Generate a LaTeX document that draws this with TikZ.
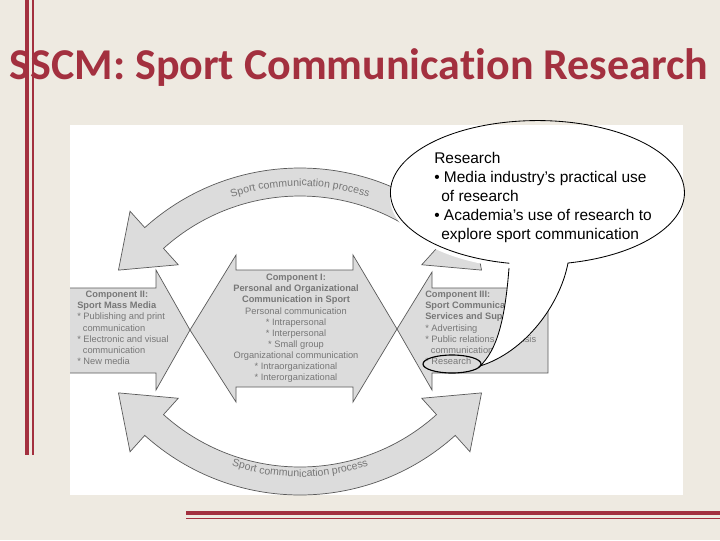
\documentclass[tikz,border=0pt]{standalone}
\usepackage{fontspec}
\setmainfont{Liberation Sans}
\newfontfamily\titlefont[Ligatures=NoCommon]{Carlito}
\usetikzlibrary{calc,decorations.text}
\definecolor{bg}{HTML}{EEEAE1}
\definecolor{deepred}{HTML}{A3303F}
\definecolor{shapefill}{HTML}{DCDCDC}
\definecolor{shapeline}{HTML}{5A5A5A}
\definecolor{txtgray}{HTML}{777777}
\tikzset{
  shp/.style={fill=shapefill},
  shpline/.style={draw=shapeline,line width=0.5pt,line join=miter},
  comp/.style={text=txtgray,font=\fontsize{6.6}{7.9}\selectfont,inner sep=0pt},
  calltxt/.style={font=\fontsize{11}{13.6}\selectfont,inner sep=0pt,anchor=north west,align=left}
}
\begin{document}
\begin{tikzpicture}[x=0.025cm,y=-0.025cm]
\fill[bg] (0,0) rectangle (720,540);
\useasboundingbox (0,0) rectangle (720,540);
% red rules
\draw[deepred,line width=2.2pt] (27,0) -- (27,455);
\draw[deepred,line width=1.3pt] (33,0) -- (33,455);
\draw[deepred,line width=2.2pt] (186,513) -- (720,513);
\draw[deepred,line width=1.3pt] (186,518.5) -- (720,518.5);
% title
\node[text=deepred,font=\titlefont\bfseries\fontsize{31.3}{36}\selectfont,inner sep=0pt] (title) at (359,68) {SSCM: Sport Communication Research};
% panel
\fill[white] (70,125) rectangle (683,495);
% arcs
\def\toparc{([shift={(300,400)}]-48:232) arc[start angle=-48,end angle=-132,radius=232]
  -- ([shift={(300,400)}]-132:254) -- ($([shift={(300,400)}]-132:218)+(138:48)$)
  -- ([shift={(300,400)}]-132:182) -- ([shift={(300,400)}]-132:204)
  arc[start angle=-132,end angle=-48,radius=204]
  -- ([shift={(300,400)}]-48:182) -- ($([shift={(300,400)}]-48:218)+(42:48)$)
  -- ([shift={(300,400)}]-48:254) -- cycle}
\def\botarc{([shift={(300,263)}]48:232) arc[start angle=48,end angle=132,radius=232]
  -- ([shift={(300,263)}]132:254) -- ($([shift={(300,263)}]132:218)+(222:48)$)
  -- ([shift={(300,263)}]132:182) -- ([shift={(300,263)}]132:204)
  arc[start angle=132,end angle=48,radius=204]
  -- ([shift={(300,263)}]48:182) -- ($([shift={(300,263)}]48:218)+(-42:48)$)
  -- ([shift={(300,263)}]48:254) -- cycle}
\def\leftarr{(70,288) -- (156,288) -- (156,270) -- (190,330) -- (156,390) -- (156,373) -- (70,373)}
\def\rightarr{(548,288) -- (432,288) -- (432,272) -- (397,329) -- (432,390) -- (432,373) -- (548,373) -- cycle}
\def\centarr{(190,330) -- (236,255) -- (236,270) -- (353,270) -- (353,255) -- (397,329) -- (353,402) -- (353,387) -- (236,387) -- (236,402) -- cycle}
\fill[shp] \toparc;
\fill[shp] \botarc;
\fill[shp] \leftarr -- cycle;
\fill[shp] \rightarr;
\fill[shp] \centarr;
\draw[shpline] \toparc;
\draw[shpline] \botarc;
\draw[shpline] \leftarr;
\draw[shpline] \rightarr;
\draw[shpline] \centarr;
% arc labels
\path[decorate,decoration={text along path,text align=center,
  text={|\fontsize{7.5}{8}\selectfont\color{txtgray}|Sport communication process}}]
  ([shift={(300,400)}]-122:214) arc[start angle=-122,end angle=-58,radius=214];
\path[decorate,decoration={text along path,text align=center,
  text={|\fontsize{7.5}{8}\selectfont\color{txtgray}|Sport communication process}}]
  ([shift={(300,263)}]122:214) arc[start angle=122,end angle=58,radius=214];
% component texts
\node[comp,align=center,anchor=north] (c1) at (296,274) {\textbf{Component I:}\\\textbf{Personal and Organizational}\\\textbf{Communication in Sport}\\Personal communication\\* Intrapersonal\\* Interpersonal\\* Small group\\Organizational communication\\* Intraorganizational\\* Interorganizational};
\node[comp,align=left,anchor=north west] (c2) at (77,291) {\hspace*{6pt}\textbf{Component II:}\\\textbf{Sport Mass Media}\\* Publishing and print\\\hspace*{4pt}communication\\* Electronic and visual\\\hspace*{4pt}communication\\* New media};
\node[comp,align=left,anchor=north west] (c3) at (425,291) {\textbf{Component III:}\\\textbf{Sport Communication}\\\textbf{Services and Support}\\* Advertising\\* Public relations and crisis\\\hspace*{4pt}communication\\* Research};
% callout
\fill[white] (509,268) .. controls (505,320) and (497,350) .. (480,366) .. controls (525,352) and (560,305) .. (568,263) -- cycle;
\fill[white] (537,197) ellipse[x radius=147,y radius=72];
\draw[black,line width=0.6pt] (509,268) .. controls (505,320) and (497,350) .. (480,366) .. controls (525,352) and (560,305) .. (568,263)
  arc[start angle=78,end angle=-259,x radius=147,y radius=72];
\draw[black,line width=0.8pt] (452,364) ellipse[x radius=29,y radius=9];
\node[calltxt] (ct) at (434,152) {Research\\\textbullet\ Media industry's practical use\\\hspace*{5pt}of research\\\textbullet\ Academia's use of research to\\\hspace*{5pt}explore sport communication};
\end{tikzpicture}
\end{document}
